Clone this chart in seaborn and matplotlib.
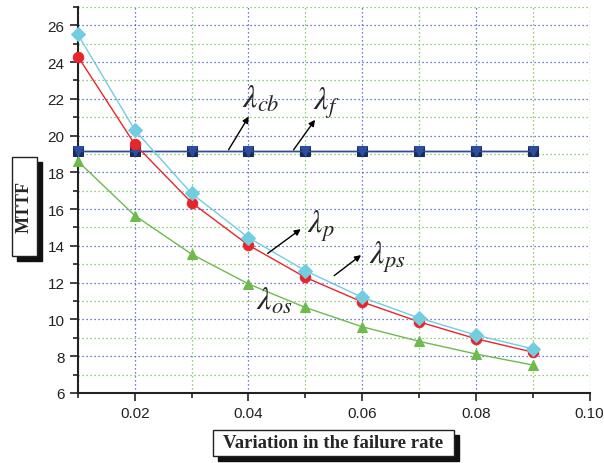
import numpy as np
import pandas as pd
import matplotlib
matplotlib.use("Agg")
import matplotlib.pyplot as plt
import seaborn as sns
from matplotlib.patches import Rectangle
from matplotlib.ticker import MultipleLocator

# ---- data ----
rate = [0.01, 0.02, 0.03, 0.04, 0.05, 0.06, 0.07, 0.08, 0.09]
mttf_ps = [25.5, 20.3, 16.85, 14.45, 12.65, 11.2, 10.08, 9.15, 8.4]
mttf_p = [24.3, 19.53, 16.35, 14.04, 12.29, 10.95, 9.87, 8.95, 8.22]
mttf_os = [18.6, 15.65, 13.55, 11.93, 10.65, 9.6, 8.81, 8.12, 7.52]
mttf_cb = [19.15] * 9
mttf_f = [19.15] * 9
xtick_vals = [0.02, 0.04, 0.06, 0.08, 0.10]
xtick_labels = ['0.02', '0.04', '0.06', '0.08', '0.10']

sns.set_style("white")
plt.rcParams['font.family'] = ['Liberation Sans', 'DejaVu Sans']
plt.rcParams['mathtext.fontset'] = 'stix'

fig = plt.figure(figsize=(6.04, 4.64), dpi=100)
ax = fig.add_axes([0.129, 0.151, 0.847, 0.832])

series = [
    (mttf_cb, '#1b2a5a', 's', 6.5, '#1b2a5a'),
    (mttf_f, '#2b4f9e', 'v', 7.5, '#2b4f9e'),
    (mttf_os, '#6cbb4c', '^', 7.5, '#6cbb4c'),
    (mttf_p, '#e8252b', 'o', 7.5, '#e8252b'),
    (mttf_ps, '#72cde0', 'D', 7.5, '#72cde0'),
]
for vals, col, mk, ms, mc in series:
    sns.lineplot(x=rate, y=vals, ax=ax, color=col, marker=mk, markersize=ms,
                 markerfacecolor=mc, markeredgecolor=mc, linewidth=1.0,
                 clip_on=False, zorder=3)

ax.set_xlim(0.01, 0.10)
ax.set_ylim(6, 27)
ax.xaxis.set_minor_locator(MultipleLocator(0.01))
ax.yaxis.set_minor_locator(MultipleLocator(1))
ax.set_xticks(xtick_vals)
ax.set_xticklabels(xtick_labels)
ax.set_yticks(np.arange(6, 27, 2))
ax.tick_params(axis='both', which='major', direction='out', length=6, width=1.2,
               labelsize=11, colors='#222222', bottom=True, left=True)
ax.tick_params(axis='both', which='minor', direction='out', length=3.5, width=1.2,
               bottom=True, left=True, colors='#222222')

ax.grid(True, which='major', color='#3a55c0', linestyle=(0, (1, 2.2)), linewidth=0.9)
ax.grid(True, which='minor', color='#6cc04c', linestyle=(0, (1, 2.2)), linewidth=0.9)
ax.set_axisbelow(True)

for s in ['top', 'right']:
    ax.spines[s].set_visible(False)
for s in ['left', 'bottom']:
    ax.spines[s].set_color('#222222')
    ax.spines[s].set_linewidth(1.5)

ax.set_xlabel('')
ax.set_ylabel('')

# annotations
lam_fs = 23
arrow = dict(arrowstyle='-|>', color='black', lw=1.0, mutation_scale=9)
ax.annotate('', xy=(0.0403, 21.16), xytext=(0.03625, 19.1), arrowprops=arrow)
ax.text(0.0421, 21.98, r'$\lambda_{cb}$', fontsize=lam_fs, ha='center', va='center')
ax.annotate('', xy=(0.0520, 20.98), xytext=(0.04765, 19.1), arrowprops=arrow)
ax.text(0.0537, 21.8, r'$\lambda_{f}$', fontsize=lam_fs, ha='center', va='center')
ax.annotate('', xy=(0.0496, 15.0), xytext=(0.0430, 13.5), arrowprops=arrow)
ax.text(0.0527, 15.1, r'$\lambda_{p}$', fontsize=lam_fs, ha='center', va='center')
ax.annotate('', xy=(0.0602, 13.59), xytext=(0.0547, 12.29), arrowprops=arrow)
ax.text(0.0644, 13.45, r'$\lambda_{ps}$', fontsize=lam_fs, ha='center', va='center')
ax.text(0.0445, 11.0, r'$\lambda_{os}$', fontsize=lam_fs, ha='center', va='center')

# boxed axis labels with shadows
W, H = 604.0, 464.0
def box(x0, y0, x1, y1, text, rot, fs):
    sh = 5
    fig.patches.append(Rectangle(((x0 + sh) / W, 1 - (y1 + sh) / H), (x1 - x0) / W, (y1 - y0) / H,
                                 transform=fig.transFigure, facecolor='#111111', edgecolor='#111111', zorder=1))
    fig.patches.append(Rectangle((x0 / W, 1 - y1 / H), (x1 - x0) / W, (y1 - y0) / H,
                                 transform=fig.transFigure, facecolor='white', edgecolor='#222222',
                                 linewidth=1.0, zorder=2))
    fig.text((x0 + x1) / 2 / W, 1 - (y0 + y1) / 2 / H, text, rotation=rot, ha='center', va='center',
             fontsize=fs, fontweight='bold', family=['Liberation Serif', 'DejaVu Serif'], zorder=3)

box(213, 431, 454, 457, 'Variation in the failure rate', 0, 13.5)
box(12, 158, 37, 257, 'MTTF', 90, 13)

fig.savefig('out.png', dpi=100)
